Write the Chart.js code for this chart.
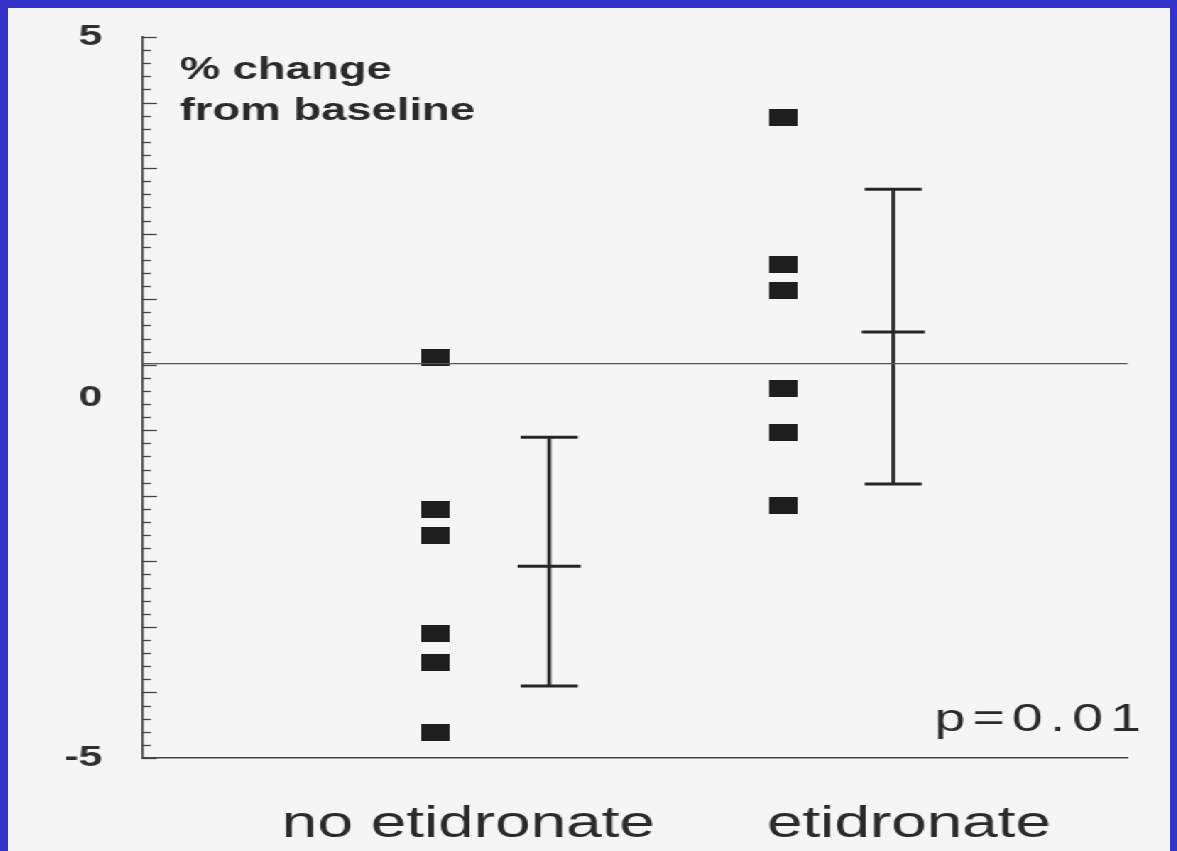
<!DOCTYPE html>
<html>
<head>
<meta charset="utf-8">
<title>% change from baseline: etidronate vs no etidronate</title>
<script src="https://cdn.jsdelivr.net/npm/chart.js@4.4.1/dist/chart.umd.min.js"></script>
<style>
  html, body { margin: 0; padding: 0; width: 1177px; height: 851px; overflow: hidden; background: #3333cc; }
  /* the slide is drawn narrow and widened horizontally, like the original overhead */
  #sheet { position: absolute; left: 8px; top: 8px; width: 818px; height: 843px;
           background: #f5f5f5; transform: scaleX(1.42); transform-origin: 0 0; }
  canvas { display: block; }
</style>
</head>
<body>
<div id="sheet"><canvas id="chart" width="818" height="843"></canvas></div>
<script>
// ---- data ----
const categories = ['no etidronate', 'etidronate'];
const noEtidronate = [0.55, -1.55, -1.92, -3.28, -3.67, -4.65];
const etidronate = [3.89, 1.84, 1.48, 0.13, -0.49, -1.50];
const groupMean = [-2.34, 0.91];
const sdLow = [-4.00, -1.20];
const sdHigh = [-0.55, 2.89];
const baselineLevel = 0.47;
const yTickLabels = ['-5', '0', '5'];
const axisTitleLines = ['% change', 'from baseline'];
const pValueText = 'p=0.01';

// ---- layout ----
const X_MIN = 0, X_MAX = 10;
const dotX = [2.98, 6.50];       // column of individual values
const barX = [4.13, 7.62];       // mean ± SD bar
const labelX = [3.31, 7.78];     // category label centres
const END_CAP = 0.29, MEAN_CAP = 0.32;
const Y_MIN = -5, Y_MAX = 5;
const MINOR_STEPS = 55;          // 11 long divisions, 5 short ticks each
const FONT = "'Liberation Sans', Arial, Helvetica, sans-serif";
const INK = '#262626';

// filled rectangle used as the point marker
const marker = document.createElement('canvas');
marker.width = 20; marker.height = 17;
const mctx = marker.getContext('2d');
mctx.fillStyle = '#1e1e1e';
mctx.fillRect(0, 0, 20, 17);

const lineDs = (points, width, color) => ({
  type: 'line', data: points, borderColor: color, borderWidth: width,
  pointRadius: 0, fill: false, tension: 0
});

const datasets = [];
datasets.push(lineDs([{ x: X_MIN, y: baselineLevel }, { x: X_MAX, y: baselineLevel }], 1.4, '#555'));
[noEtidronate, etidronate].forEach((values, g) => {
  datasets.push({
    type: 'scatter', label: categories[g],
    data: values.map(v => ({ x: dotX[g], y: v })),
    pointStyle: marker, pointRadius: 10, pointHoverRadius: 10
  });
  datasets.push(lineDs([{ x: barX[g], y: sdLow[g] }, { x: barX[g], y: sdHigh[g] }], 2.7, INK));
  [[sdLow[g], END_CAP], [groupMean[g], MEAN_CAP], [sdHigh[g], END_CAP]].forEach(([v, half]) => {
    datasets.push(lineDs([{ x: barX[g] - half, y: v }, { x: barX[g] + half, y: v }], 3, INK));
  });
});

// short and long tick marks drawn inside the plot along the value axis
const valueTicks = {
  id: 'valueTicks',
  afterDraw(chart) {
    const y = chart.scales.y, ctx = chart.ctx, left = chart.chartArea.left;
    ctx.save();
    ctx.strokeStyle = '#444';
    ctx.lineWidth = 1.3;
    y.ticks.forEach(t => {
      if (!t.mark) return;
      const py = Math.round(y.getPixelForValue(t.value)) + 0.5;
      ctx.beginPath();
      ctx.moveTo(left, py);
      ctx.lineTo(left + (t.long ? 10.5 : 6.3), py);
      ctx.stroke();
    });
    ctx.restore();
  }
};

// axis caption in the top-left corner and the p-value in the bottom-right
const notes = {
  id: 'notes',
  afterDraw(chart) {
    const ctx = chart.ctx, a = chart.chartArea;
    ctx.save();
    ctx.fillStyle = '#2a2a2a';
    ctx.textAlign = 'left';
    ctx.textBaseline = 'alphabetic';
    ctx.font = 'bold 32px ' + FONT;
    ctx.fillText(axisTitleLines[0], a.left + 26.5, 71);
    ctx.fillText(axisTitleLines[1], a.left + 26.5, 112);
    ctx.font = '39px ' + FONT;
    if ('letterSpacing' in ctx) ctx.letterSpacing = '5px';
    ctx.fillText(pValueText, chart.scales.x.getPixelForValue(8.04), chart.scales.y.getPixelForValue(-4.62));
    ctx.restore();
  }
};

new Chart(document.getElementById('chart'), {
  type: 'scatter',
  data: { datasets },
  options: {
    responsive: false,
    animation: false,
    devicePixelRatio: 1,
    layout: { padding: { top: 29, right: 29.3, bottom: 0, left: 0 } },
    plugins: { legend: { display: false }, tooltip: { enabled: false } },
    scales: {
      x: {
        type: 'linear', min: X_MIN, max: X_MAX,
        grid: { display: false, drawTicks: false },
        border: { display: true, color: '#444', width: 1.5 },
        afterBuildTicks: s => { s.ticks = labelX.map(v => ({ value: v })); },
        afterFit: s => { s.height = 93; s.paddingLeft = 0; s.paddingRight = 0; },
        ticks: {
          autoSkip: false, maxRotation: 0, padding: 40, color: '#2a2a2a',
          font: { family: FONT, size: 45 },
          callback: (v, i) => categories[i]
        }
      },
      y: {
        type: 'linear', min: Y_MIN, max: Y_MAX,
        grid: { display: false, drawTicks: false },
        border: { display: true, color: '#444', width: 1.5 },
        afterBuildTicks: s => {
          const ticks = [];
          for (let k = 0; k <= MINOR_STEPS; k++) {
            ticks.push({ value: (k * (Y_MAX - Y_MIN) - MINOR_STEPS * (Y_MAX - Y_MIN) / 2) / MINOR_STEPS,
                         mark: true, long: k % 5 === 0 });
          }
          ticks.push({ value: 0, mark: false });
          ticks.sort((p, q) => p.value - q.value);
          s.ticks = ticks;
        },
        afterFit: s => { s.width = 94.4; s.paddingTop = 0; s.paddingBottom = 0; },
        ticks: {
          autoSkip: false, padding: 28, color: '#2e2e2e',
          font: { family: FONT, size: 30, weight: 'bold' },
          callback: v => (yTickLabels.includes(String(v)) ? String(v) : '')
        }
      }
    }
  },
  plugins: [valueTicks, notes]
});
</script>
</body>
</html>
